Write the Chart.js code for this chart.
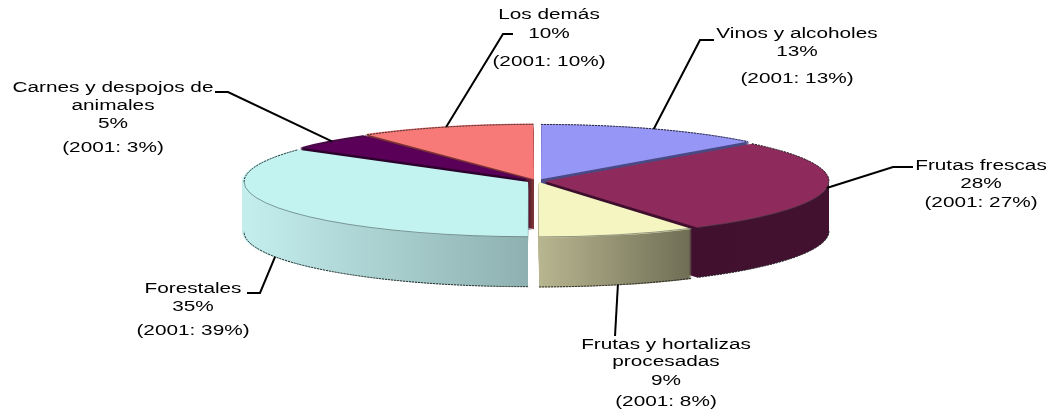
<!DOCTYPE html>
<html lang="es">
<head>
<meta charset="utf-8">
<title>Exportaciones</title>
<script src="https://cdn.jsdelivr.net/npm/chart.js@4"></script>
<style>
  html, body { margin: 0; padding: 0; background: #fff; }
  canvas { display: block; }
</style>
</head>
<body>
<canvas id="pie" width="1051" height="416"></canvas>
<script>
// Données
const categories = ['Vinos y alcoholes', 'Frutas frescas', 'Frutas y hortalizas procesadas', 'Forestales', 'Carnes y despojos de animales', 'Los demás'];
const values = [13, 28, 9, 35, 5, 10];
const values2001 = [13, 27, 8, 39, 3, 10];

const topColors = ['#9696f6', '#8f2b5c', '#f5f5c2', '#c2f3f1', '#5a0058', '#f87a78'];
const sideColors = ['#4a4a85', ['#3c0e2b', '#431130'], ['#b8b690', '#6f6e55'], ['#c4eeee', '#8eb0b0'], '#2c002c', '#7c3434'];
const sliceOffsets = [40, 32, 24, 40, 24, 40];

// Texte des étiquettes : lignes, centre x, baseline de chaque ligne, puis le coude du trait
const labelLayout = [
  { lines: ['Vinos y alcoholes', '13%', '(2001: 13%)'], x: 797, ys: [38, 56, 83], elbow: [[700, 40], [714, 40]] },
  { lines: ['Frutas frescas', '28%', '(2001: 27%)'], x: 981, ys: [170, 188, 207], elbow: [[893, 167], [913, 167]] },
  { lines: ['Frutas y hortalizas', 'procesadas', '9%', '(2001: 8%)'], x: 666, ys: [349, 366, 385, 406], elbow: [[615, 336]] },
  { lines: ['Forestales', '35%', '(2001: 39%)'], x: 193, ys: [293, 311, 335], elbow: [[260, 293], [247, 293]] },
  { lines: ['Carnes y despojos de', 'animales', '5%', '(2001: 3%)'], x: 113, ys: [92, 110, 128, 152], elbow: [[228, 92], [215, 92]] },
  { lines: ['Los demás', '10%', '(2001: 10%)'], x: 549, ys: [19, 38, 66], elbow: [[503, 34], [513, 34]] },
];

const squash = 0.193;
const depth = 50;
const drawOrder = [5, 0, 4, 1, 3, 2];

function sideFill(ctx, i, arc) {
  const c = sideColors[i];
  if (typeof c === 'string') return c;
  const x0 = Math.min(arc.x + Math.cos(arc.startAngle) * arc.outerRadius, i === 3 ? arc.x - arc.outerRadius : arc.x);
  const x1 = i === 3 ? arc.x : arc.x + Math.cos(arc.startAngle) * arc.outerRadius;
  const g = i === 2 ? ctx.createLinearGradient(arc.x, 0, arc.x + Math.cos(arc.startAngle) * arc.outerRadius, 0) : ctx.createLinearGradient(x0, 0, x1, 0);
  g.addColorStop(0, c[0]);
  g.addColorStop(1, c[1]);
  return g;
}

function withDepth(ctx, arc, d, fn) {
  ctx.save();
  ctx.translate(arc.x, arc.y + d);
  ctx.scale(1, squash);
  ctx.translate(-arc.x, -arc.y);
  fn();
  ctx.restore();
}

function drawRim(ctx, arc, d, from, to, dash, color) {
  const a = Math.max(arc.startAngle, from);
  const b = Math.min(arc.endAngle, to);
  if (b <= a) return;
  const half = (arc.startAngle + arc.endAngle) / 2;
  const off = (arc.options.offset || 0) / 4;
  ctx.save();
  withDepth(ctx, arc, d, () => {
    ctx.beginPath();
    ctx.arc(arc.x + Math.cos(half) * off, arc.y + Math.sin(half) * off, arc.outerRadius, a, b);
  });
  ctx.setLineDash(dash);
  ctx.lineWidth = 1;
  ctx.strokeStyle = color;
  ctx.stroke();
  ctx.restore();
}

const pie3d = {
  id: 'pie3d',
  beforeDatasetDraw(chart, args) {
    const ctx = chart.ctx;
    const arcs = chart.getDatasetMeta(args.index).data;
    drawOrder.forEach((i) => {
      const arc = arcs[i];
      const orig = arc.options;
      arc.options = { ...orig, backgroundColor: sideFill(ctx, i, arc) };
      for (let d = depth; d > 0; d--) {
        withDepth(ctx, arc, d, () => arc.draw(ctx));
      }
      arc.options = orig;
      drawRim(ctx, arc, depth, 0, Math.PI, [2, 1], '#222');
      withDepth(ctx, arc, 0, () => arc.draw(ctx));
      drawRim(ctx, arc, 0, -Math.PI, 0, [2, 1], '#222');
      drawRim(ctx, arc, 0, Math.PI, 2 * Math.PI, [2, 1], '#222');
      drawRim(ctx, arc, 0, 0, Math.PI, [], 'rgba(60,70,70,0.55)');
    });
    return false;
  },
  afterDatasetsDraw(chart) {
    const ctx = chart.ctx;
    const arcs = chart.getDatasetMeta(0).data;
    ctx.save();
    ctx.fillStyle = '#000';
    ctx.font = '15.5px "Liberation Sans", Arial, sans-serif';
    ctx.textAlign = 'center';
    ctx.textBaseline = 'alphabetic';
    labelLayout.forEach((lab, i) => {
      const arc = arcs[i];
      const mid = (arc.startAngle + arc.endAngle) / 2;
      const off = arc.options.offset / 4;
      const rimX = arc.x + Math.cos(mid) * (arc.outerRadius + off);
      const rimY = arc.y + Math.sin(mid) * (arc.outerRadius + off) * squash + (Math.sin(mid) > 0.25 ? depth : 0);
      ctx.beginPath();
      ctx.moveTo(rimX, rimY);
      lab.elbow.forEach((p) => ctx.lineTo(p[0], p[1]));
      ctx.lineWidth = 2;
      ctx.strokeStyle = '#000';
      ctx.stroke();
      lab.lines.forEach((line, k) => {
        ctx.save();
        ctx.translate(lab.x, lab.ys[k]);
        ctx.scale(1.34, 1);
        ctx.fillText(line, 0, 0);
        ctx.restore();
      });
    });
    ctx.restore();
  },
};

const pieChart = new Chart(document.getElementById('pie'), {
  type: 'pie',
  data: {
    labels: categories,
    datasets: [{
      data: values,
      backgroundColor: topColors,
      borderWidth: 0,
      offset: sliceOffsets,
    }],
  },
  options: {
    responsive: false,
    animation: false,
    radius: 284,
    layout: { padding: { left: 23, right: 0, top: 0, bottom: 54 } },
    plugins: {
      legend: { display: false },
      tooltip: { enabled: false },
    },
  },
  plugins: [pie3d],
});
</script>
</body>
</html>
